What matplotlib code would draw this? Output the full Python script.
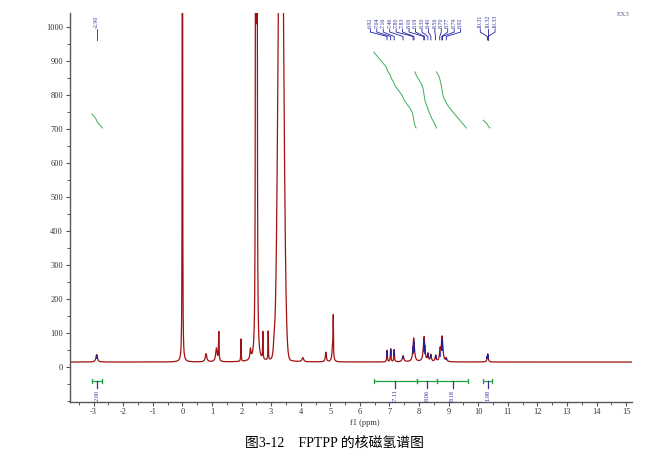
import numpy as np
import matplotlib
matplotlib.use('Agg')
import matplotlib.pyplot as plt
from matplotlib.ticker import MultipleLocator

plt.rcParams['font.family'] = ['Liberation Serif', 'Noto Sans CJK SC']
plt.rcParams['axes.unicode_minus'] = False

# peaks: position (ppm), height above baseline, half width (ppm)
peak_ppm = [-2.90, 0.00, 0.80, 1.15, 1.23, 1.98, 2.30, 2.48, 2.52, 2.72, 2.90,
            3.10, 3.33, 4.07, 4.85, 5.08, 5.10,
            6.92, 7.04, 7.16, 7.46, 7.82, 8.17, 8.30, 8.40, 8.56, 8.71, 8.78,
            8.92, 10.32]
peak_height = [22, 6000, 24, 40, 85, 66, 30, 6000, 6000, 80, 85,
               40, 200, 12, 28, 50, 110,
               34, 38, 36, 18, 70, 74, 22, 20, 18, 32, 74,
               10, 24]
peak_width = [0.030, 0.004, 0.030, 0.030, 0.010, 0.008, 0.020, 0.006, 0.006, 0.008, 0.008,
              0.030, 0.050, 0.030, 0.020, 0.025, 0.006,
              0.012, 0.012, 0.012, 0.030, 0.030, 0.030, 0.020, 0.020, 0.020, 0.020, 0.030,
              0.020, 0.020]
baseline = 15
# water signal is broad and gaussian-like: centre, height, sigma
water_ppm, water_height, water_sigma = 3.33, 1700, 0.083

# picked peaks (labels at the top)
pick_left = [-2.90]
pick_arom = [6.92, 7.04, 7.16, 7.46, 7.80, 7.83, 8.16, 8.19, 8.30, 8.40,
             8.56, 8.70, 8.77, 8.79, 8.92]
pick_far = [10.31, 10.32, 10.33]

# integrals
int_start = [-3.06, 6.47, 7.93, 8.61, 10.17]
int_end = [-2.72, 7.93, 8.61, 9.66, 10.46]
int_label = ['2.00', '17.11', '8.06', '8.18', '1.98']
curve_start = [-3.06, 6.47, 7.86, 8.59, 10.17]
curve_end = [-2.70, 7.90, 8.59, 9.60, 10.40]
curve_top = [744, 926, 868, 868, 726]
curve_bottom = [703, 703, 703, 703, 703]

x = np.linspace(-3.8, 15.2, 12000)
y = np.full_like(x, baseline, dtype=float)
for c, h, w in zip(peak_ppm, peak_height, peak_width):
    y += h / (1 + ((x - c) / w) ** 2)
y += water_height * np.exp(-(x - water_ppm) ** 2 / (2 * water_sigma ** 2))


def spec(p):
    return np.interp(p, x, y)


fig = plt.figure(figsize=(6.69, 4.58), dpi=100)
ax = fig.add_axes([70 / 669, 1 - 401.5 / 458, 562 / 669, 388.5 / 458])
ax.set_xlim(-3.8, 15.2)
ax.set_ylim(-101, 1041)

ax.plot(x, y, color='#a01010', lw=0.9)

# blue peak-pick marks
for p in pick_left + pick_arom + pick_far:
    v = spec(p)
    ax.vlines(p, baseline + (v - baseline) * 0.45, v - (v - baseline) * 0.05,
              color='#2020a0', lw=1.2, zorder=3)

# integral curves
for s, e, top, bot in zip(curve_start, curve_end, curve_top, curve_bottom):
    xs = np.linspace(s, e, 200)
    cum = np.cumsum(spec(xs))
    cum = (cum - cum[0]) / (cum[-1] - cum[0])
    ax.plot(xs, top - cum * (top - bot), color='#3cae5a', lw=0.7)

# integral bars and labels
for s, e, lab in zip(int_start, int_end, int_label):
    ax.plot([s, e], [-41, -41], color='#22a040', lw=0.9)
    for xe in (s, e):
        ax.plot([xe, xe], [-47, -35], color='#22a040', lw=0.9)
    m = (s + e) / 2
    ax.plot([m, m], [-41, -62], color='#3030a0', lw=0.9)
    ax.text(m, -66, lab, rotation=90, ha='center', va='top', fontsize=4.5,
            color='#3030a0')


# peak labels at the top
def label_group(picks, centre, step):
    n = len(picks)
    for i, p in enumerate(picks):
        lx = centre + (i - (n - 1) / 2) * step
        ax.text(lx, 997, f'{p:.2f}', rotation=90, ha='center', va='bottom',
                fontsize=4.2, color='#3030a0', clip_on=False)
        ax.plot([lx, lx, p, p], [994, 985, 972, 962], color='#2020a0', lw=0.6,
                clip_on=False)


label_group(pick_left, -2.90, 0.22)
label_group(pick_arom, 7.88, 0.218)
label_group(pick_far, 10.32, 0.25)

fig.text(623 / 669, 1 - 15 / 458, 'EX3', fontsize=5, color='#556688',
         ha='center', va='center')

# axes styling
for s in ('top', 'right'):
    ax.spines[s].set_visible(False)
for s in ('left', 'bottom'):
    ax.spines[s].set_color('#555555')
    ax.spines[s].set_linewidth(1.0)
ax.set_xticks(np.arange(-3, 16, 1))
ax.xaxis.set_minor_locator(MultipleLocator(0.5))
ax.set_yticks(np.arange(0, 1001, 100))
ax.yaxis.set_minor_locator(MultipleLocator(50))
ax.tick_params(which='major', length=3, width=0.8, color='#555555',
               labelsize=6, labelcolor='#333333', pad=2)
ax.tick_params(which='minor', length=2, width=0.7, color='#555555')
ax.set_xlabel('f1 (ppm)', fontsize=6, color='#333333', labelpad=1)
ax.xaxis.set_label_coords((365 - 70) / 562, -0.045)

fig.text(0.5, 1 - 443 / 458, '图3-12    FPTPP 的核磁氢谱图', ha='center',
         va='center', fontsize=10)

fig.savefig('out.png', dpi=100)
